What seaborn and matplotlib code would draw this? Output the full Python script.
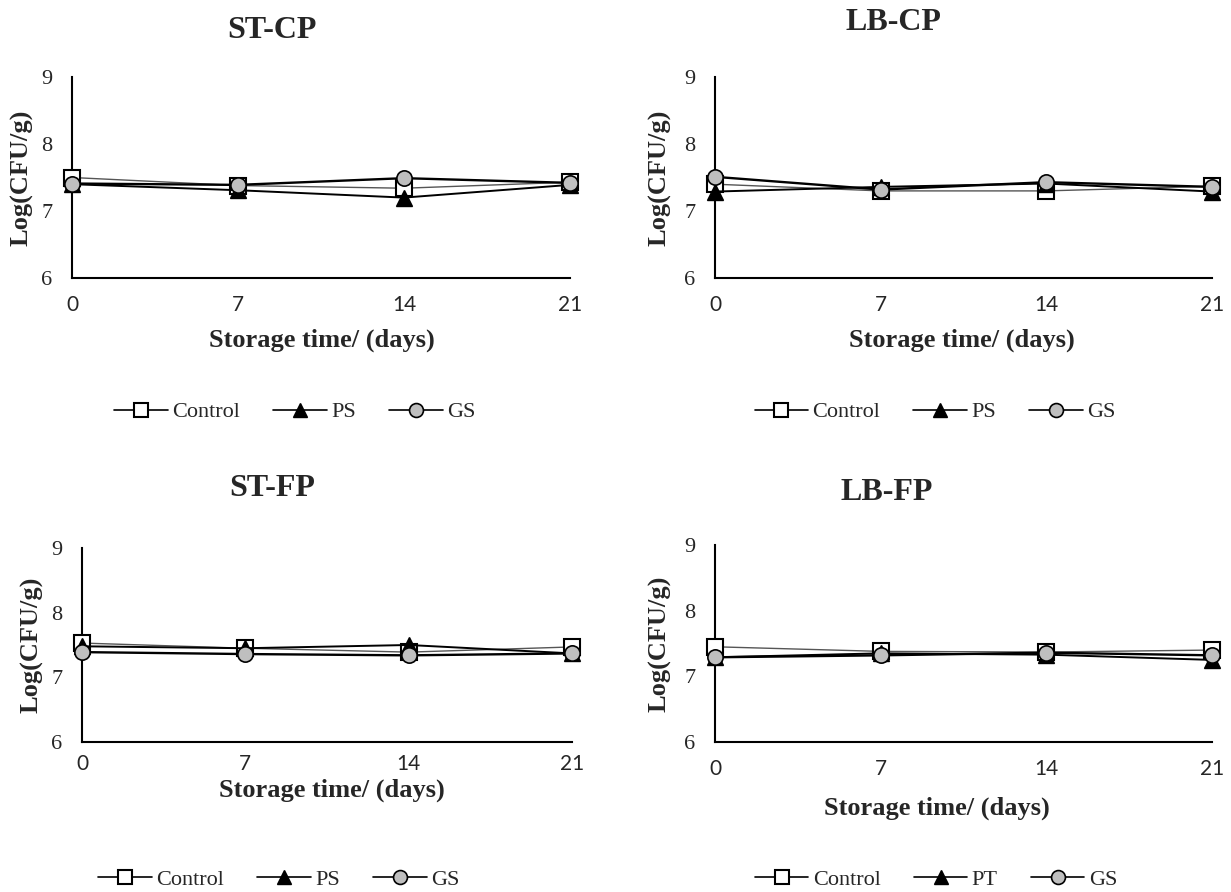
import matplotlib
matplotlib.use("Agg")
import matplotlib.pyplot as plt
import seaborn as sns
from matplotlib.lines import Line2D

# ---------------- data ----------------
days = [0, 7, 14, 21]
x_tick_labels = ["0", "7", "14", "21"]
y_ticks = [6, 7, 8, 9]
y_tick_labels = ["6", "7", "8", "9"]

st_cp_control = [7.50, 7.38, 7.34, 7.43]
st_cp_ps = [7.40, 7.31, 7.20, 7.39]
st_cp_gs = [7.41, 7.39, 7.49, 7.42]

lb_cp_control = [7.40, 7.30, 7.30, 7.37]
lb_cp_ps = [7.29, 7.36, 7.41, 7.29]
lb_cp_gs = [7.51, 7.32, 7.43, 7.36]

st_fp_control = [7.53, 7.45, 7.39, 7.47]
st_fp_ps = [7.48, 7.45, 7.50, 7.37]
st_fp_gs = [7.39, 7.36, 7.34, 7.37]

lb_fp_control = [7.45, 7.38, 7.37, 7.40]
lb_fp_ps = [7.29, 7.35, 7.33, 7.25]
lb_fp_gs = [7.29, 7.32, 7.36, 7.32]

panel_titles = ["ST-CP", "LB-CP", "ST-FP", "LB-FP"]
panel_series = [
    [st_cp_control, st_cp_ps, st_cp_gs],
    [lb_cp_control, lb_cp_ps, lb_cp_gs],
    [st_fp_control, st_fp_ps, st_fp_gs],
    [lb_fp_control, lb_fp_ps, lb_fp_gs],
]
panel_legends = [
    ["Control", "PS", "GS"],
    ["Control", "PS", "GS"],
    ["Control", "PS", "GS"],
    ["Control", "PT", "GS"],
]
x_label = "Storage time/ (days)"
y_label = "Log(CFU/g)"

# ---------------- style ----------------
sns.set_style("white")
plt.rcParams["font.family"] = ["Liberation Serif", "DejaVu Serif"]

W, H = 1231, 892
fig = plt.figure(figsize=(W / 100, H / 100), dpi=100)

def fx(px):
    return px / W

def fy(py):
    return 1 - py / H

# pixel boxes: left, right, top, bottom
boxes = [
    (72, 570, 77, 278),
    (715, 1212, 77, 278),
    (82, 572, 548, 742),
    (715, 1212, 545, 742),
]
title_pos = [(272, 30), (893, 22), (272, 488), (887, 492)]
xlabel_pos = [(322, 340), (962, 340), (332, 790), (937, 808)]
xtick_pad = [6, 6, 3, 6]
ylabel_x = [22, 660, 32, 660]
legend_pos = [(295, 412), (935, 412), (279, 880), (936, 880)]

styles = [
    dict(marker="s", markersize=12, markerfacecolor="white", markeredgecolor="black",
         markeredgewidth=1.5, color="#555555", linewidth=1.0),
    dict(marker="^", markersize=12, markerfacecolor="black", markeredgecolor="black",
         markeredgewidth=1.0, color="black", linewidth=1.4),
    dict(marker="o", markersize=11, markerfacecolor="#BFBFBF", markeredgecolor="black",
         markeredgewidth=1.2, color="black", linewidth=1.7),
]

for i in range(4):
    l, r, t, b = boxes[i]
    ax = fig.add_axes([fx(l), fy(b), (r - l) / W, (b - t) / H])
    for s_idx, vals in enumerate(panel_series[i]):
        sns.lineplot(x=days, y=vals, ax=ax, clip_on=False, zorder=3 + s_idx,
                     **styles[s_idx])
    ax.set_xlim(0, 21)
    ax.set_ylim(6, 9)
    ax.set_xticks(days)
    ax.set_xticklabels(x_tick_labels, fontfamily="Lato", fontsize=15)
    ax.set_yticks(y_ticks)
    ax.set_yticklabels(y_tick_labels, fontsize=16)
    ax.tick_params(axis="y", length=0, pad=14)
    ax.tick_params(axis="x", length=6, width=1.5, direction="out",
                   pad=xtick_pad[i], color="black")
    for sp in ["top", "right"]:
        ax.spines[sp].set_visible(False)
    for sp in ["left", "bottom"]:
        ax.spines[sp].set_color("black")
        ax.spines[sp].set_linewidth(1.5)
    ax.grid(False)

    # title
    tx, ty = title_pos[i]
    fig.text(fx(tx), fy(ty), panel_titles[i], ha="center", va="center",
             fontsize=23, fontweight="bold")
    # x label
    ax.set_xlabel(x_label, fontsize=19, fontweight="bold")
    lx, ly = xlabel_pos[i]
    ax.xaxis.set_label_coords((lx - l) / (r - l), (b - ly) / (b - t))
    ax.xaxis.label.set_va("center")
    # y label
    ax.set_ylabel(y_label, fontsize=19, fontweight="bold")
    ax.yaxis.set_label_coords((ylabel_x[i] - l) / (r - l), 0.5)
    ax.yaxis.label.set_va("center")

    # legend
    handles = []
    for s_idx in range(3):
        st = dict(styles[s_idx])
        st["markersize"] = 10
        st["color"] = "black"
        st["linewidth"] = 1.2
        handles.append(Line2D([0], [0], **st))
    gx, gy = legend_pos[i]
    fig.legend(handles, panel_legends[i], loc="center", bbox_to_anchor=(fx(gx), fy(gy)),
               ncol=3, frameon=False, prop={"size": 16}, handlelength=2.4,
               columnspacing=1.5, handletextpad=0.2)

fig.savefig("out.png", dpi=100)
